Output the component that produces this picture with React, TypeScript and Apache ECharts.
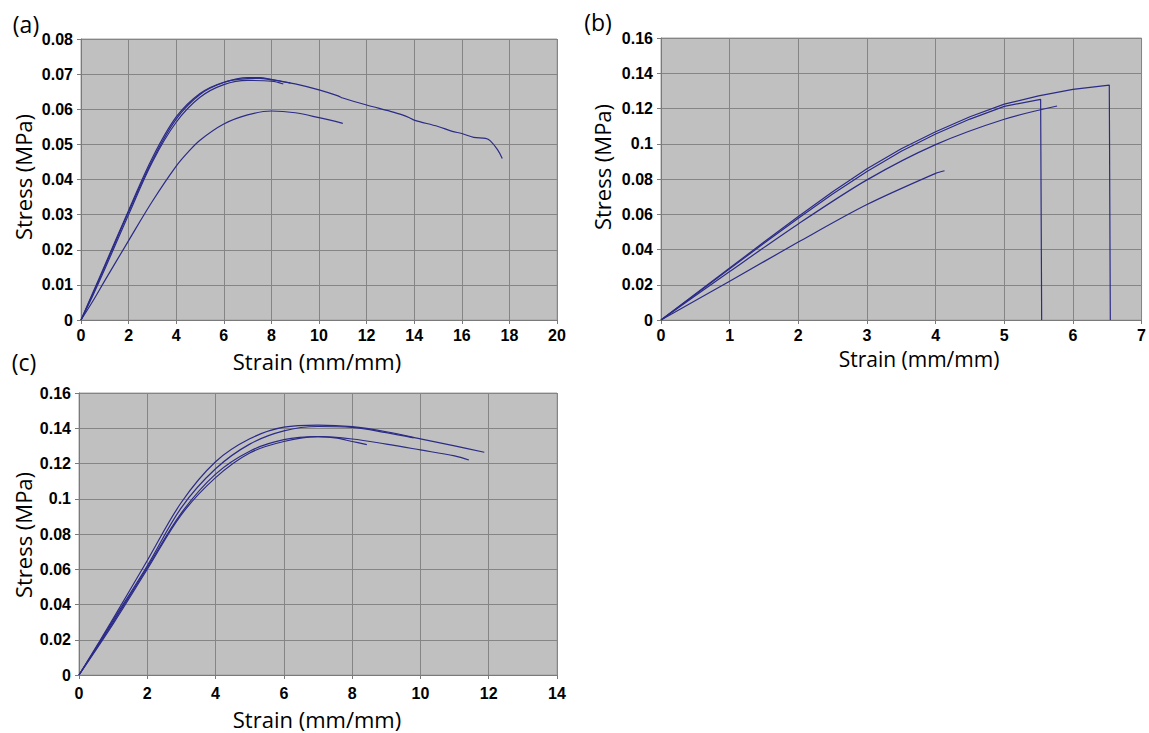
import React, { useEffect, useRef } from "react";
import * as echarts from "echarts";

// ---------- Panel (a) ----------
const aXTicks = { min: 0, max: 20, interval: 2 };
const aYTicks = { min: 0, max: 0.08, interval: 0.01 };
const aStrain1 = [0, 0.5, 1, 2, 3, 4, 5, 6, 7, 7.5, 8, 9, 10, 10.8, 11, 12, 13, 13.5, 13.8, 14, 15, 15.6, 16, 16.5, 17, 17.2, 17.5, 17.7];
const aStress1 = [0, 0.0075, 0.0152, 0.0308, 0.0455, 0.0572, 0.0642, 0.0676, 0.069, 0.069, 0.0685, 0.0672, 0.0655, 0.0638, 0.0632, 0.0612, 0.0594, 0.0584, 0.0576, 0.0569, 0.0551, 0.0537, 0.0531, 0.052, 0.0517, 0.051, 0.0485, 0.046];
const aStrain2 = [0, 0.5, 1, 2, 3, 4, 5, 6, 7, 7.5, 8, 8.8];
const aStress2 = [0, 0.0078, 0.0156, 0.0312, 0.0462, 0.0578, 0.0645, 0.0677, 0.0687, 0.0688, 0.0684, 0.0675];
const aStrain3 = [0, 0.5, 1, 2, 3, 4, 5, 6, 7, 8, 8.5];
const aStress3 = [0, 0.007, 0.0145, 0.03, 0.045, 0.0563, 0.0634, 0.067, 0.0682, 0.068, 0.0672];
const aStrain4 = [0, 0.5, 1, 2, 3, 4, 4.5, 5, 6, 7, 8, 9, 10, 11];
const aStress4 = [0, 0.0054, 0.0112, 0.0226, 0.0338, 0.0438, 0.0478, 0.0512, 0.0558, 0.0584, 0.0595, 0.059, 0.0576, 0.056];

// ---------- Panel (b) ----------
const bXTicks = { min: 0, max: 7, interval: 1 };
const bYTicks = { min: 0, max: 0.16, interval: 0.02 };
const bStrain1 = [0, 0.5, 1, 1.5, 2, 2.5, 3, 3.5, 4, 4.5, 5, 5.5, 6, 6.53, 6.545];
const bStress1 = [0, 0.0148, 0.0295, 0.0442, 0.0587, 0.0728, 0.0858, 0.0972, 0.1068, 0.1153, 0.1225, 0.1272, 0.1308, 0.1333, 0];
const bStrain2 = [0, 0.5, 1, 1.5, 2, 2.5, 3, 3.5, 4, 4.5, 5, 5.53, 5.545];
const bStress2 = [0, 0.0145, 0.029, 0.0435, 0.0577, 0.0715, 0.0843, 0.0957, 0.1055, 0.114, 0.1212, 0.1252, 0];
const bStrain3 = [0, 1, 2, 3, 4, 5, 5.77];
const bStress3 = [0, 0.0275, 0.0545, 0.0795, 0.0995, 0.1139, 0.1214];
const bStrain4 = [0, 1, 2, 3, 4, 4.13];
const bStress4 = [0, 0.022, 0.0442, 0.0655, 0.0832, 0.0847];

// ---------- Panel (c) ----------
const cXTicks = { min: 0, max: 14, interval: 2 };
const cYTicks = { min: 0, max: 0.16, interval: 0.02 };
const cStrain1 = [0, 1, 2, 3, 4, 5, 6, 7, 8, 9, 10, 11, 11.87];
const cStress1 = [0, 0.032, 0.065, 0.098, 0.121, 0.134, 0.1406, 0.1418, 0.1409, 0.138, 0.134, 0.13, 0.1264];
const cStrain2 = [0, 1, 2, 3, 4, 5, 6, 7, 8, 9, 9.8];
const cStress2 = [0, 0.031, 0.062, 0.095, 0.117, 0.131, 0.1385, 0.141, 0.1405, 0.1375, 0.1345];
const cStrain3 = [0, 1, 2, 3, 4, 5, 6, 7, 7.5, 8, 8.43];
const cStress3 = [0, 0.03, 0.061, 0.092, 0.114, 0.127, 0.1335, 0.1352, 0.1345, 0.1325, 0.1307];
const cStrain4 = [0, 1, 2, 3, 4, 5, 6, 7, 8, 9, 10, 11, 11.42];
const cStress4 = [0, 0.029, 0.06, 0.091, 0.112, 0.126, 0.1325, 0.1352, 0.1339, 0.131, 0.1277, 0.1243, 0.122];

const LINE = "#2b2b88";
const GRIDLINE = "#858585";
const TICK_FONT = { fontFamily: "Liberation Sans", fontWeight: "bold" as const, fontSize: 16, color: "#000" };

const pairs = (xs: number[], ys: number[]) => xs.map((x, i) => [x, ys[i]]);
const fmt = (v: number) => (v === 0 ? "0" : String(Number(v.toFixed(4))));

function xAxis(idx: number, t: { min: number; max: number; interval: number }, margin: number) {
  return {
    type: "value", gridIndex: idx, min: t.min, max: t.max, interval: t.interval,
    axisLine: { show: true, onZero: false, lineStyle: { color: "#7a7a7a", width: 1 } },
    axisTick: { show: true, length: 4, lineStyle: { color: "#7a7a7a" } },
    axisLabel: { ...TICK_FONT, margin, formatter: fmt },
    splitLine: { show: true, lineStyle: { color: GRIDLINE, width: 1 } },
  };
}
function yAxis(idx: number, t: { min: number; max: number; interval: number }) {
  return {
    type: "value", gridIndex: idx, min: t.min, max: t.max, interval: t.interval,
    axisLine: { show: true, onZero: false, lineStyle: { color: "#7a7a7a", width: 1 } },
    axisTick: { show: true, length: 4, lineStyle: { color: "#7a7a7a" } },
    axisLabel: { ...TICK_FONT, margin: 8, formatter: fmt },
    splitLine: { show: true, lineStyle: { color: GRIDLINE, width: 1 } },
  };
}
function line(idx: number, xs: number[], ys: number[], smooth: number | boolean) {
  return {
    type: "line", xAxisIndex: idx, yAxisIndex: idx, data: pairs(xs, ys),
    showSymbol: false, symbol: "none", smooth,
    lineStyle: { color: LINE, width: 1.2 }, silent: true,
  };
}
function label(text: string, x: number, y: number, size: number, rot = 0) {
  return {
    type: "text", x, y, rotation: rot,
    style: { text, fill: "#000", fontSize: size, fontFamily: "Open Sans", align: "center", verticalAlign: "middle" },
  };
}

export default function App() {
  const ref = useRef<HTMLDivElement>(null);
  useEffect(() => {
    document.body.style.margin = "0";
    const chart = echarts.init(ref.current!, undefined, { renderer: "svg" });
    const gridStyle = { show: true, backgroundColor: "#c0c0c0", borderColor: "#a3a3a3", borderWidth: 1 };
    chart.setOption({
      animation: false,
      backgroundColor: "#ffffff",
      grid: [
        { left: 81, top: 39, width: 476, height: 281, ...gridStyle },
        { left: 661, top: 38, width: 481, height: 282, ...gridStyle },
        { left: 79, top: 393, width: 478, height: 282, ...gridStyle },
      ],
      xAxis: [xAxis(0, aXTicks, 7), xAxis(1, bXTicks, 7), xAxis(2, cXTicks, 10)],
      yAxis: [yAxis(0, aYTicks), yAxis(1, bYTicks), yAxis(2, cYTicks)],
      series: [
        line(0, aStrain1, aStress1, 0.35),
        line(0, aStrain2, aStress2, 0.35),
        line(0, aStrain3, aStress3, 0.35),
        line(0, aStrain4, aStress4, 0.35),
        line(1, bStrain1, bStress1, false),
        line(1, bStrain2, bStress2, false),
        line(1, bStrain3, bStress3, 0.3),
        line(1, bStrain4, bStress4, 0.3),
        line(2, cStrain1, cStress1, 0.35),
        line(2, cStrain2, cStress2, 0.35),
        line(2, cStrain3, cStress3, 0.35),
        line(2, cStrain4, cStress4, 0.35),
      ],
      graphic: [
        label("(a)", 26, 24, 23),
        label("(b)", 598, 22, 23),
        label("(c)", 24, 362, 23),
        label("Stress (MPa)", 23, 177, 22, Math.PI / 2),
        label("Stress (MPa)", 602, 167, 22, Math.PI / 2),
        label("Stress (MPa)", 23, 535, 22, Math.PI / 2),
        label("Strain (mm/mm)", 317, 361, 22),
        label("Strain (mm/mm)", 919, 359, 21),
        label("Strain (mm/mm)", 317, 719, 22),
      ],
    });
    return () => chart.dispose();
  }, []);
  return <div ref={ref} style={{ position: "absolute", left: 0, top: 0, width: 1149, height: 733 }} />;
}
